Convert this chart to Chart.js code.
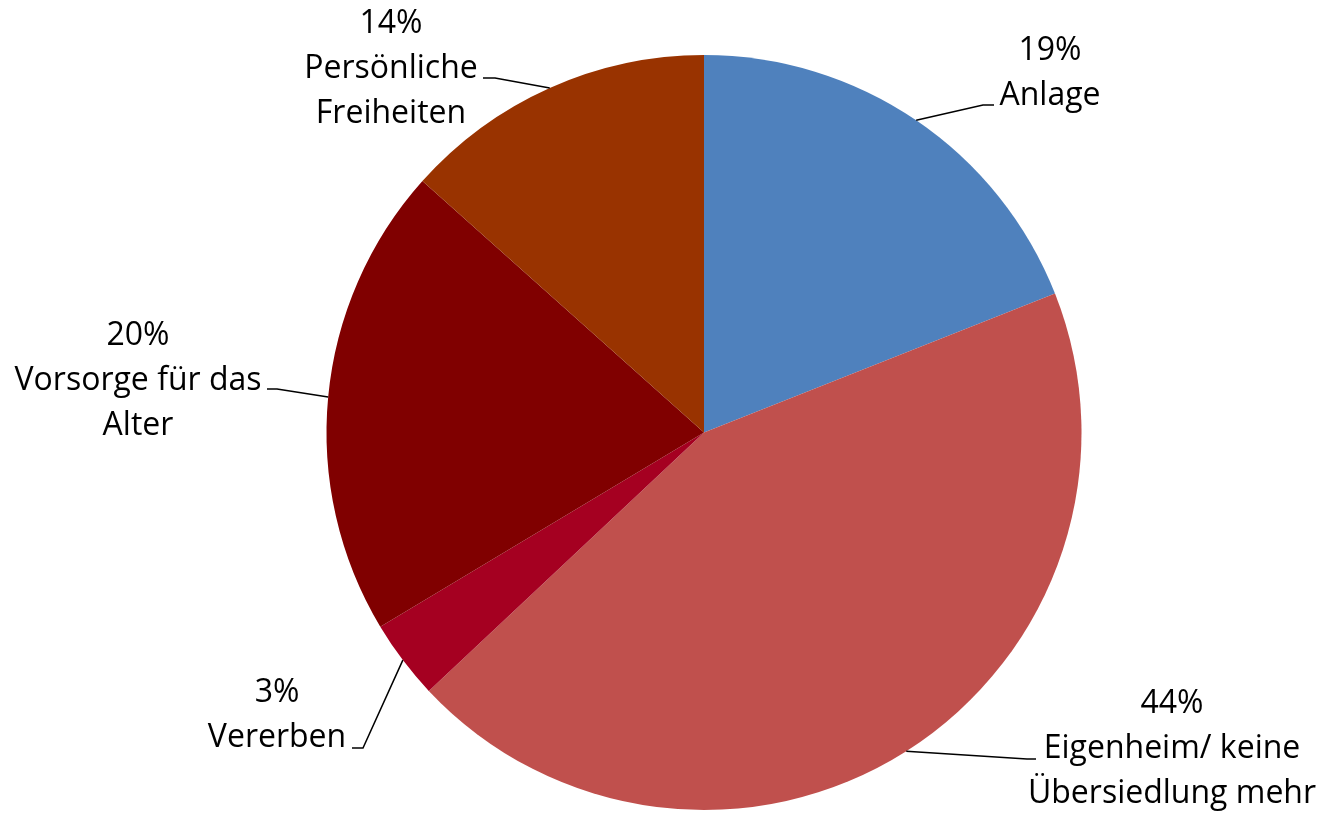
<!DOCTYPE html>
<html>
<head>
<meta charset="utf-8">
<title>Pie</title>
<script src="https://cdn.jsdelivr.net/npm/chart.js@4.4.1/dist/chart.umd.min.js"></script>
<style>
    html, body { margin: 0; padding: 0; background: #fff; }
    #wrap { width: 1321px; height: 814px; }
</style>
</head>
<body>
<div id="wrap"><canvas id="pieChart" width="1321" height="814"></canvas></div>
<script>
// data (clockwise from 12 o'clock)
const categories = ['Anlage', 'Eigenheim/ keine Übersiedlung mehr', 'Vererben', 'Vorsorge für das Alter', 'Persönliche Freiheiten'];
const shares = [19.0, 44.0, 3.4, 20.2, 13.4];
const percentLabels = ['19%', '44%', '3%', '20%', '14%'];
const labelLines = [
    ['Anlage'],
    ['Eigenheim/ keine', 'Übersiedlung mehr'],
    ['Vererben'],
    ['Vorsorge für das', 'Alter'],
    ['Persönliche', 'Freiheiten']
];
const sliceColors = ['#4F81BD', '#C0504D', '#A50021', '#800000', '#993300'];

// where each callout sits: text centre x, first baseline, leader elbow, leader end
const calloutLayout = [
    { cx: 1050, y: 60,  elbow: [983, 105],  end: [994, 105] },
    { cx: 1172, y: 713, elbow: [1027, 759], end: [1036, 759] },
    { cx: 277,  y: 702, elbow: [363, 748],  end: [352, 748] },
    { cx: 138,  y: 345, elbow: [277, 389],  end: [267, 389] },
    { cx: 391,  y: 33,  elbow: [495, 78],   end: [483, 78] }
];
const LINE_H = 45;

const calloutPlugin = {
    id: 'callouts',
    afterDatasetsDraw(chart) {
        const ctx = chart.ctx;
        const arcs = chart.getDatasetMeta(0).data;
        ctx.save();
        ctx.font = '32px "Open Sans", sans-serif';
        ctx.fillStyle = '#000';
        ctx.textAlign = 'center';
        ctx.textBaseline = 'alphabetic';
        ctx.strokeStyle = '#000';
        ctx.lineWidth = 1.5;

        arcs.forEach((arc, i) => {
            const p = arc.getProps(['x', 'y', 'startAngle', 'endAngle', 'outerRadius'], true);
            const mid = (p.startAngle + p.endAngle) / 2;
            const sx = p.x + Math.cos(mid) * p.outerRadius;
            const sy = p.y + Math.sin(mid) * p.outerRadius;
            const lay = calloutLayout[i];

            ctx.beginPath();
            ctx.moveTo(sx, sy);
            ctx.lineTo(lay.elbow[0], lay.elbow[1]);
            ctx.lineTo(lay.end[0], lay.end[1]);
            ctx.stroke();

            const lines = [percentLabels[i]].concat(labelLines[i]);
            lines.forEach((t, k) => {
                ctx.fillText(t, lay.cx, lay.y + k * LINE_H);
            });
        });
        ctx.restore();
    }
};

const ctx = document.getElementById('pieChart').getContext('2d');
new Chart(ctx, {
    type: 'pie',
    data: {
        labels: categories,
        datasets: [{
            data: shares,
            backgroundColor: sliceColors,
            borderWidth: 0,
            offset: 0,
            hoverOffset: 0
        }]
    },
    options: {
        responsive: false,
        devicePixelRatio: 1,
        animation: false,
        layout: { padding: { top: 55, bottom: 4, left: 87, right: 0 } },
        plugins: {
            legend: { display: false },
            tooltip: { enabled: false }
        }
    },
    plugins: [calloutPlugin]
});
</script>
</body>
</html>
